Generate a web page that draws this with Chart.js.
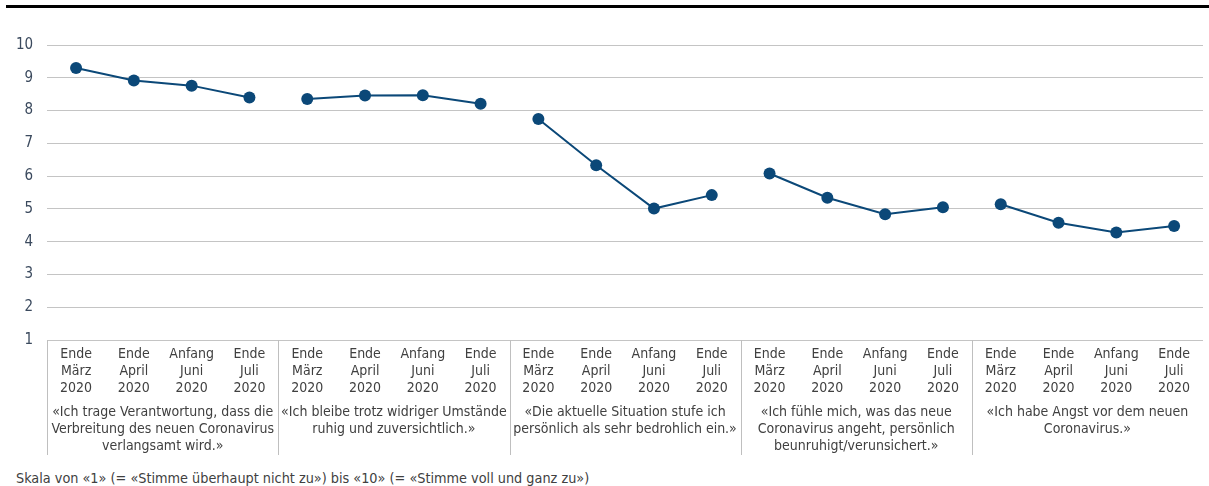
<!DOCTYPE html>
<html>
<head>
<meta charset="utf-8">
<script src="https://cdn.jsdelivr.net/npm/chart.js@4.4.1/dist/chart.umd.min.js"></script>
<style>
  body { margin: 0; background: #fff; }
  #wrap { position: relative; width: 1209px; height: 486px; }
  #topline { position: absolute; left: 6px; right: 0; top: 5px; height: 3px; background: #000; }
  #chartBox { position: absolute; left: 0; top: 0; width: 1209px; height: 462px; }
  #note { position: absolute; left: 16px; top: 470px; font: 14.3px "DejaVu Sans Condensed", "DejaVu Sans", sans-serif; color: #404040; }
</style>
</head>
<body>
<div id="wrap">
  <div id="topline"></div>
  <div id="chartBox"><canvas id="grafico"></canvas></div>
  <div id="note">Skala von «1» (= «Stimme überhaupt nicht zu») bis «10» (= «Stimme voll und ganz zu»)</div>
</div>
<script>
const zeitpunkte = [
  ['Ende', 'März', '2020'],
  ['Ende', 'April', '2020'],
  ['Anfang', 'Juni', '2020'],
  ['Ende', 'Juli', '2020']
];
const aussagen = [
  ['«Ich trage Verantwortung, dass die', 'Verbreitung des neuen Coronavirus', 'verlangsamt wird.»'],
  ['«Ich bleibe trotz widriger Umstände', 'ruhig und zuversichtlich.»'],
  ['«Die aktuelle Situation stufe ich', 'persönlich als sehr bedrohlich ein.»'],
  ['«Ich fühle mich, was das neue', 'Coronavirus angeht, persönlich', 'beunruhigt/verunsichert.»'],
  ['«Ich habe Angst vor dem neuen', 'Coronavirus.»']
];
const verantwortung = [9.30, 8.92, 8.76, 8.40];
const ruhig = [8.35, 8.46, 8.47, 8.21];
const bedrohlich = [7.74, 6.33, 5.01, 5.42];
const beunruhigt = [6.08, 5.34, 4.84, 5.05];
const angst = [5.14, 4.58, 4.28, 4.48];
const yTicks = [1, 2, 3, 4, 5, 6, 7, 8, 9, 10];

const farbe = '#0b4878';
const reihen = [verantwortung, ruhig, bedrohlich, beunruhigt, angst];
const labels = [];
aussagen.forEach(() => zeitpunkte.forEach(z => labels.push(z)));

const datasets = reihen.map((werte, g) => {
  const data = labels.map(() => null);
  werte.forEach((v, i) => { data[g * zeitpunkte.length + i] = v; });
  return {
    data: data,
    borderColor: farbe,
    backgroundColor: farbe,
    borderWidth: 2,
    pointRadius: 6,
    pointHoverRadius: 6,
    pointBorderWidth: 0,
    spanGaps: false,
    tension: 0
  };
});

// senkrechte Trennlinien zwischen den Aussagen
const trenner = {
  id: 'trenner',
  afterDraw(chart) {
    const x = chart.scales.x;
    const x2 = chart.scales.x2;
    const ctx = chart.ctx;
    ctx.save();
    ctx.strokeStyle = '#bfbfbf';
    ctx.lineWidth = 1;
    for (let g = 0; g < aussagen.length; g++) {
      let px;
      if (g === 0) px = chart.chartArea.left;
      else px = (x.getPixelForValue(g * 4) + x.getPixelForValue(g * 4 - 1)) / 2;
      px = Math.round(px) + 0.5;
      ctx.beginPath();
      ctx.moveTo(px, chart.chartArea.bottom);
      ctx.lineTo(px, x2.bottom - 1);
      ctx.stroke();
    }
    ctx.restore();
  }
};

const schrift = { family: '"DejaVu Sans Condensed", "DejaVu Sans", sans-serif', size: 14, lineHeight: '17px' };

new Chart(document.getElementById('grafico'), {
  type: 'line',
  data: { labels: labels, datasets: datasets },
  options: {
    responsive: true,
    maintainAspectRatio: false,
    animation: false,
    layout: { padding: { top: 45, left: 2, right: 3, bottom: 6 } },
    scales: {
      y: {
        min: 1,
        max: 10,
        afterBuildTicks: (axis) => { axis.ticks = yTicks.map(v => ({ value: v })); },
        ticks: { color: '#3b4a5e', padding: 14, font: { family: schrift.family, size: 15 } },
        grid: { color: '#c4c4c4', drawTicks: false },
        border: { display: false }
      },
      x: {
        offset: true,
        grid: { display: false, drawTicks: false },
        border: { display: false },
        ticks: { color: '#404040', padding: 6, maxRotation: 0, autoSkip: false, font: schrift }
      },
      x2: {
        type: 'category',
        position: 'bottom',
        weight: 1,
        labels: aussagen,
        offset: true,
        grid: { display: false, drawTicks: false },
        border: { display: false },
        ticks: { color: '#404040', padding: 1, maxRotation: 0, autoSkip: false, font: schrift }
      }
    },
    plugins: {
      legend: { display: false },
      tooltip: { enabled: false }
    }
  },
  plugins: [trenner]
});
</script>
</body>
</html>
